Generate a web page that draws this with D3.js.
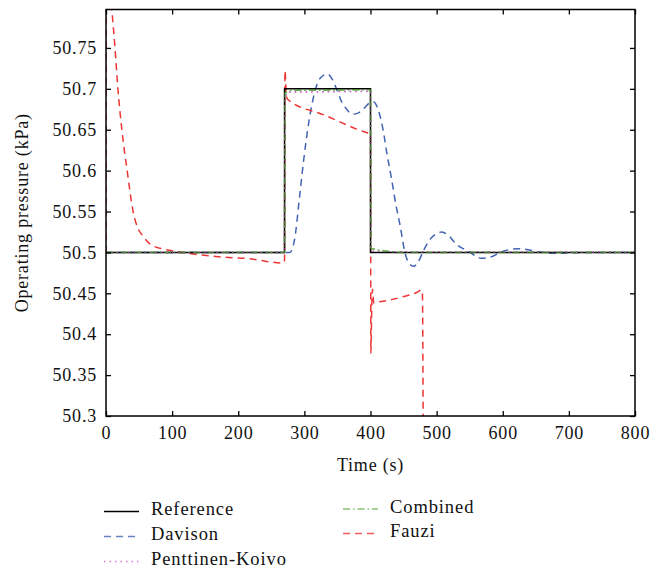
<!DOCTYPE html>
<html>
<head>
<meta charset="utf-8">
<script src="https://cdn.jsdelivr.net/npm/d3@7"></script>
<style>
  html, body { margin: 0; padding: 0; background: #fff; }
  svg text { font-family: "Liberation Serif", "Times New Roman", serif; fill: #111; }
</style>
</head>
<body>
<svg id="chart" width="664" height="575"></svg>
<script>
// ---- data ----
const xTicks = [0, 100, 200, 300, 400, 500, 600, 700, 800];
const yTicks = [50.3, 50.35, 50.4, 50.45, 50.5, 50.55, 50.6, 50.65, 50.7, 50.75];
const yTickLabels = ["50.3", "50.35", "50.4", "50.45", "50.5", "50.55", "50.6", "50.65", "50.7", "50.75"];
const xMin = 0, xMax = 800, yMin = 50.3, yMax = 50.797;

const refT = [0, 270, 270.01, 400, 400.01, 800];
const refV = [50.5, 50.5, 50.7, 50.7, 50.5, 50.5];

const pkT = [0, 270, 270.5, 275, 400, 400.5, 405, 800];
const pkV = [50.5, 50.5, 50.69, 50.696, 50.697, 50.503, 50.501, 50.5];

const combT = [0, 270, 270.5, 280, 400, 400.5, 410, 420, 440, 800];
const combV = [50.5, 50.5, 50.695, 50.698, 50.699, 50.505, 50.503, 50.502, 50.5, 50.5];

const davT = [0, 270, 278, 285, 293, 300, 310, 321, 328, 335, 342, 350, 357, 364, 372, 380, 390, 399, 405, 410, 419, 425, 432, 438, 445, 452, 458, 465, 472, 480, 490, 500, 508, 516, 530, 551, 560, 568, 580, 601, 615, 626, 640, 651, 680, 700, 720, 800];
const davV = [50.5, 50.5, 50.5, 50.515, 50.57, 50.62, 50.675, 50.709, 50.716, 50.718, 50.712, 50.697, 50.683, 50.675, 50.669, 50.67, 50.676, 50.683, 50.684, 50.678, 50.65, 50.62, 50.589, 50.56, 50.532, 50.5, 50.487, 50.483, 50.488, 50.502, 50.516, 50.523, 50.525, 50.522, 50.51, 50.5, 50.495, 50.493, 50.494, 50.5015, 50.504, 50.5045, 50.503, 50.501, 50.499, 50.4995, 50.5, 50.5];

const fauT = [0, 0.3, 5, 9, 13.6, 18, 24, 32, 41, 48, 56, 67, 82, 100, 120, 142, 180, 220, 243, 268, 270, 270.6, 273, 275, 330, 396, 400, 400.6, 401.6, 403, 405, 410, 430, 450, 470, 477, 478.5, 480];
const fauV = [50.5, 50.85, 50.83, 50.795, 50.75, 50.7, 50.65, 50.6, 50.55, 50.53, 50.52, 50.51, 50.505, 50.502, 50.4995, 50.497, 50.494, 50.492, 50.489, 50.487, 50.49, 50.722, 50.69, 50.687, 50.668, 50.646, 50.645, 50.377, 50.42, 50.455, 50.438, 50.439, 50.442, 50.446, 50.451, 50.454, 50.45, 50.2];

const seriesNames = ["Reference", "Davison", "Penttinen-Koivo", "Combined", "Fauzi"];
const seriesColors = ["#000000", "#4063b3", "#cc5fcc", "#66b04a", "#ee3535"];

// ---- layout ----
const svg = d3.select("#chart");
const pL = 106, pR = 635, pT = 9.5, pB = 416;
const x = d3.scaleLinear().domain([xMin, xMax]).range([pL, pR]);
const y = d3.scaleLinear().domain([yMin, yMax]).range([pB, pT]);

svg.append("defs").append("clipPath").attr("id", "plotclip")
  .append("rect").attr("x", pL).attr("y", pT).attr("width", pR - pL).attr("height", pB - pT);

const styles = [
  { dash: null, width: 1.5 },
  { dash: "7,5", width: 1.5 },
  { dash: "1.5,4", width: 1.5 },
  { dash: "7,3,1.5,3", width: 1.5 },
  { dash: "7,5", width: 1.5 }
];

const datasets = [
  { t: refT, v: refV, curve: d3.curveLinear },
  { t: davT, v: davV, curve: d3.curveMonotoneX },
  { t: pkT, v: pkV, curve: d3.curveLinear },
  { t: combT, v: combV, curve: d3.curveLinear },
  { t: fauT, v: fauV, curve: d3.curveMonotoneX }
];

const g = svg.append("g").attr("clip-path", "url(#plotclip)");
const order = [1, 4, 2, 3, 0];
order.forEach(i => {
  const ds = datasets[i];
  const pts = ds.t.map((t, k) => [t, ds.v[k]]);
  const line = d3.line().x(d => x(d[0])).y(d => y(d[1])).curve(ds.curve);
  g.append("path").attr("d", line(pts))
    .attr("fill", "none")
    .attr("stroke", seriesColors[i])
    .attr("stroke-width", styles[i].width)
    .attr("stroke-dasharray", styles[i].dash);
});
[2, 3].forEach(i => {
  const ds = datasets[i];
  const pts = ds.t.map((t, k) => [t, ds.v[k]]);
  const line = d3.line().x(d => x(d[0])).y(d => y(d[1])).curve(ds.curve);
  g.append("path").attr("d", line(pts))
    .attr("fill", "none")
    .attr("stroke", seriesColors[i])
    .attr("stroke-width", 1.3)
    .attr("stroke-opacity", 0.6)
    .attr("stroke-dasharray", styles[i].dash);
});

// ---- axes ----
const tickLen = 5;
const axB = svg.append("g").attr("transform", `translate(0,${pB})`)
  .call(d3.axisBottom(x).tickValues(xTicks).tickSize(-tickLen).tickPadding(10).tickFormat(d3.format("d")));
const axT = svg.append("g").attr("transform", `translate(0,${pT})`)
  .call(d3.axisTop(x).tickValues(xTicks).tickSize(-tickLen).tickFormat(""));
const axL = svg.append("g").attr("transform", `translate(${pL},0)`)
  .call(d3.axisLeft(y).tickValues(yTicks).tickSize(-tickLen).tickPadding(9).tickFormat((d, i) => yTickLabels[i]));
const axR = svg.append("g").attr("transform", `translate(${pR},0)`)
  .call(d3.axisRight(y).tickValues(yTicks).tickSize(-tickLen).tickFormat(""));

[axB, axT, axL, axR].forEach(a => {
  a.select(".domain").remove();
  a.selectAll(".tick line").attr("stroke", "#000").attr("stroke-width", 1.3);
  a.selectAll("text").attr("font-size", 18).attr("letter-spacing", "0.8px")
    .attr("font-family", "Liberation Serif, serif").attr("fill", "#111");
});
axB.selectAll("text").attr("dy", "0.71em");

svg.append("rect").attr("x", pL).attr("y", pT).attr("width", pR - pL).attr("height", pB - pT)
  .attr("fill", "none").attr("stroke", "#000").attr("stroke-width", 1.5);

// axis titles
svg.append("text").attr("x", (pL + pR) / 2).attr("y", 471).attr("text-anchor", "middle")
  .attr("font-size", 18).attr("letter-spacing", "0.8px").text("Time (s)");
svg.append("text").attr("transform", `translate(28,${(pT + pB) / 2}) rotate(-90)`)
  .attr("text-anchor", "middle").attr("font-size", 18).attr("letter-spacing", "0.8px")
  .text("Operating pressure (kPa)");

// ---- legend ----
const legendPos = [
  { x: 104, y: 511.5 },
  { x: 104, y: 536.5 },
  { x: 104, y: 561.5 },
  { x: 343, y: 509 },
  { x: 343, y: 533.5 }
];
seriesNames.forEach((name, i) => {
  const p = legendPos[i];
  svg.append("line").attr("x1", p.x).attr("x2", p.x + 35).attr("y1", p.y).attr("y2", p.y)
    .attr("stroke", seriesColors[i]).attr("stroke-width", 1.5)
    .attr("stroke-opacity", i === 0 ? 1 : 0.8)
    .attr("stroke-dasharray", styles[i].dash);
  svg.append("text").attr("x", p.x + 47).attr("y", p.y + 3.5).attr("font-size", 18.5)
    .attr("letter-spacing", "0.9px").text(name);
});
</script>
</body>
</html>
